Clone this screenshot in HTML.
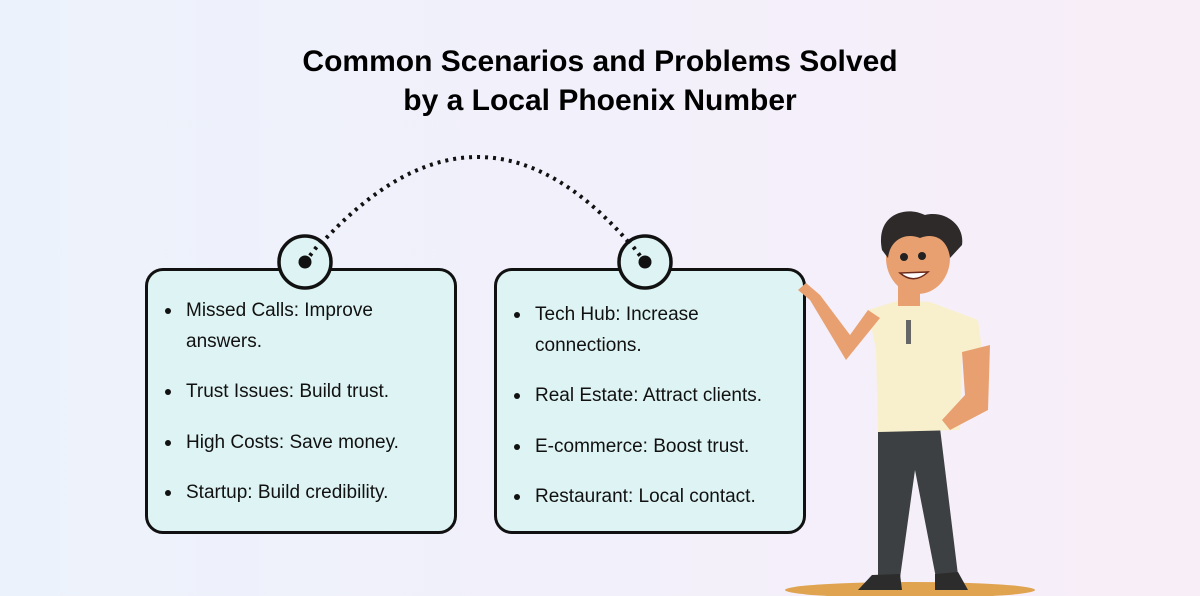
<!DOCTYPE html>
<html><head><style>
body{margin:0;width:1200px;height:596px;overflow:hidden;font-family:"Liberation Sans",sans-serif;background:linear-gradient(90deg,#ecf2fb 0%,#f2f0fb 50%,#f8eef8 100%);position:relative}
h1{position:absolute;top:42px;left:0;width:1200px;margin:0;text-align:center;font-size:30px;line-height:39px;font-weight:bold;color:#000}
.box{position:absolute;top:268px;width:306px;height:260px;border:3px solid #111;border-radius:18px;background:#def3f3}
ul{margin:0;padding:0;list-style:none}
li{position:absolute;left:17px;font-size:19px;line-height:31px;color:#111;padding-left:21px}
li:before{content:"";position:absolute;left:0;top:13px;width:6px;height:6px;border-radius:50%;background:#111}
</style></head><body>
<h1>Common Scenarios and Problems Solved<br>by a Local Phoenix Number</h1>
<svg width="1200" height="596" style="position:absolute;left:0;top:0">
<path d="M305,262 Q480,52 645,262" fill="none" stroke="#111" stroke-width="4" stroke-dasharray="3,5"/>
</svg>
<div class="box" style="left:145px"><ul>
<li style="top:24px">Missed Calls: Improve<br>answers.</li>
<li style="top:105px">Trust Issues: Build trust.</li>
<li style="top:156px">High Costs: Save money.</li>
<li style="top:206px">Startup: Build credibility.</li>
</ul></div>
<div class="box" style="left:494px"><ul>
<li style="top:28px">Tech Hub: Increase<br>connections.</li>
<li style="top:109px">Real Estate: Attract clients.</li>
<li style="top:160px">E-commerce: Boost trust.</li>
<li style="top:210px">Restaurant: Local contact.</li>
</ul></div>
<svg width="1200" height="596" style="position:absolute;left:0;top:0">
<circle cx="305" cy="262" r="26" fill="#def3f3" stroke="#111" stroke-width="3.5"/>
<circle cx="305" cy="262" r="6.5" fill="#111"/>
<circle cx="645" cy="262" r="26" fill="#def3f3" stroke="#111" stroke-width="3.5"/>
<circle cx="645" cy="262" r="6.5" fill="#111"/>
<path d="M645,262 L628,240" stroke="#111" stroke-width="4" stroke-dasharray="3,5"/>
<path d="M305,262 L322,240" stroke="#111" stroke-width="4" stroke-dasharray="3,5"/>
<ellipse cx="910" cy="590" rx="125" ry="8" fill="#e0a450"/>
<path d="M878,428 L940,428 L958,575 L936,578 L915,470 L900,578 L878,578 Z" fill="#3d4043"/>
<path d="M872,575 L900,574 L902,590 L858,590 Z" fill="#2c2c2c"/>
<path d="M935,574 L958,572 L968,590 L935,590 Z" fill="#2c2c2c"/>
<path d="M868,310 L900,300 L930,302 L978,320 L982,350 L962,355 L960,430 L878,432 L876,350 Z" fill="#f8f0cc"/>
<path d="M962,352 L990,345 L988,410 L950,430 L942,420 L965,395 Z" fill="#e9a070"/>
<path d="M880,318 L846,360 L810,300 L798,290 L806,283 L820,295 L850,335 L868,310 Z" fill="#e9a070"/>
<rect x="906" y="320" width="5" height="24" fill="#666"/>
<rect x="898" y="270" width="22" height="36" fill="#e9a070"/>
<ellipse cx="918" cy="258" rx="32" ry="36" fill="#e9a070"/>
<path d="M882,250 C875,215 905,205 925,215 C945,210 965,225 962,245 L950,258 C948,240 935,232 920,238 C905,232 890,240 888,258 Z" fill="#2e2a2a"/>
<circle cx="904" cy="257" r="4" fill="#222"/><circle cx="922" cy="256" r="4" fill="#222"/>
<path d="M900,273 Q914,285 928,272 Z" fill="#fff" stroke="#6b2a1a" stroke-width="1.5"/>
</svg>
</body></html>
